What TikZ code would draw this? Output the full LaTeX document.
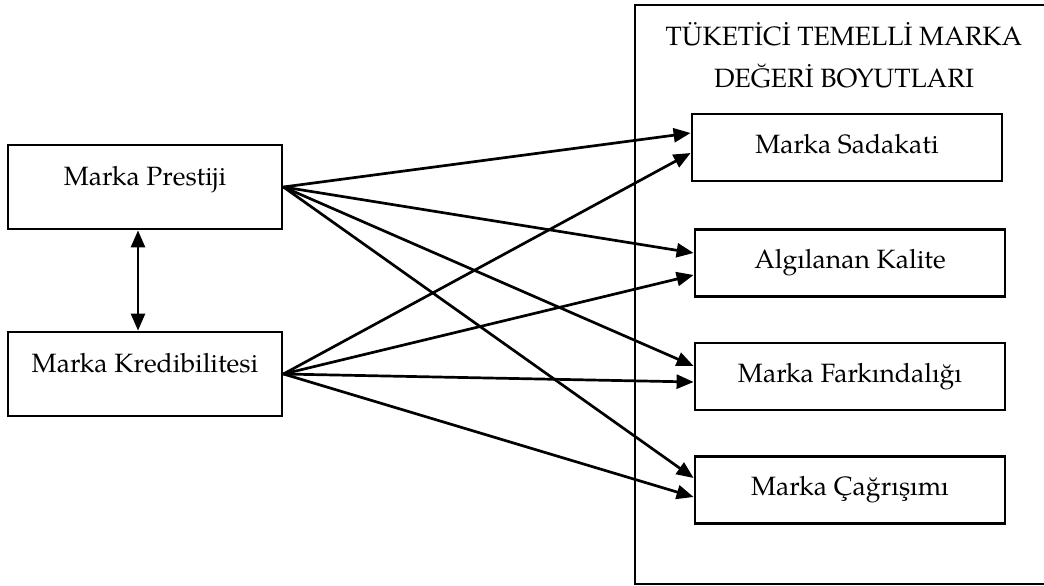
\documentclass[tikz,border=0pt]{standalone}
\usepackage{fontspec}
\setmainfont{TeX Gyre Pagella}
\usetikzlibrary{arrows.meta}
\begin{document}
\begin{tikzpicture}[x=1pt,y=-1pt,
  every node/.style={font=\fontsize{26.5}{42}\selectfont},
  lbox/.style={draw, line width=2.8pt, minimum width=274pt, inner xsep=0pt, inner ysep=0pt, text height=40pt, text depth=44pt},
  rbox/.style={draw, line width=2.8pt, minimum width=310pt, inner xsep=0pt, inner ysep=0pt, text height=39pt, text depth=28pt},
  conn/.style={line width=2.7pt, -{Triangle[length=17pt,width=14pt]}},
  dconn/.style={line width=2.7pt, {Triangle[length=17pt,width=14pt]}-{Triangle[length=17pt,width=14pt]}}]
\useasboundingbox (0,0) rectangle (1044,586);
\node[draw, line width=2.8pt, minimum width=425pt, minimum height=579pt, inner sep=0pt] (outer) at (847.5,294.5) {};
\node[align=center] (title) at (844,55) {TÜKETİCİ TEMELLİ MARKA\\DEĞERİ BOYUTLARI};
\node[lbox] (prest) at (145,187) {Marka Prestiji};
\node[lbox] (kred) at (145,374) {Marka Kredibilitesi};
\node[rbox] (sad) at (847,147.5) {Marka Sadakati};
\node[rbox] (kal) at (850,263) {Algılanan Kalite};
\node[rbox] (fark) at (850,376.5) {Marka Farkındalığı};
\node[rbox] (cag) at (850,490) {Marka Çağrışımı};
\draw[dconn] ([xshift=-7pt]prest.south) -- ([xshift=-7pt]kred.north);
\draw[conn] (prest.east) -- ([yshift=14.5pt]sad.west);
\draw[conn] (kred.east) -- ([yshift=-5.5pt]sad.west);
\draw[conn] (prest.east) -- ([yshift=10pt]kal.west);
\draw[conn] (kred.east) -- ([yshift=-12pt]kal.west);
\draw[conn] (prest.east) -- ([yshift=10.5pt]fark.west);
\draw[conn] (kred.east) -- ([yshift=-5.5pt]fark.west);
\draw[conn] (prest.east) -- ([yshift=12pt]cag.west);
\draw[conn] (kred.east) -- ([yshift=-7pt]cag.west);
\end{tikzpicture}
\end{document}
